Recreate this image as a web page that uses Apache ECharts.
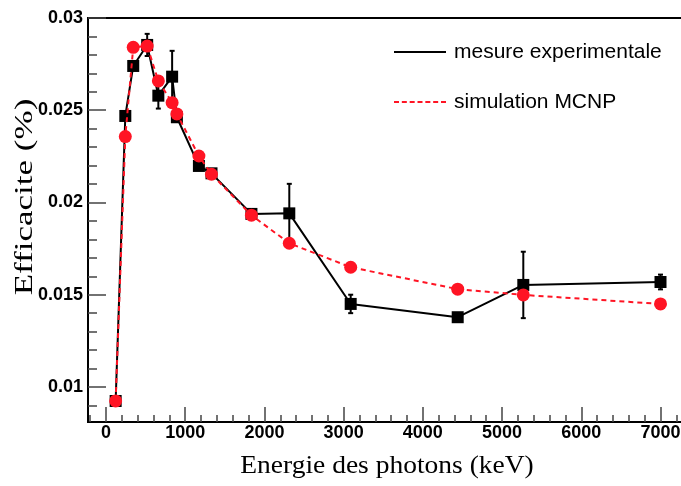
<!DOCTYPE html>
<html>
<head>
<meta charset="utf-8">
<script src="https://cdn.jsdelivr.net/npm/echarts@6/dist/echarts.min.js"></script>
<style>
  html, body { margin: 0; padding: 0; background: #ffffff; }
  #chart { width: 681px; height: 486px; }
</style>
</head>
<body>
<div id="chart"></div>
<script>
// Photon energies (keV) of the calibration lines
const energies = [122, 244, 344, 520, 661, 835, 895, 1173, 1332, 1836, 2314, 3089, 4440, 5268, 7000];

// Measured efficiency and its uncertainty (0 = bar hidden inside the marker)
const expValues = [0.00924, 0.02469, 0.0274, 0.02854, 0.02579, 0.02682, 0.02462, 0.02198, 0.02158, 0.01938, 0.01941, 0.0145, 0.01378, 0.01553, 0.01569];
const expErr    = [0, 0, 0, 0.0006, 0.0007, 0.0014, 0, 0, 0, 0, 0.0016, 0.0005, 0, 0.0018, 0.0004];

// MCNP simulated efficiency
const simValues = [0.00924, 0.02357, 0.02841, 0.02848, 0.02659, 0.02541, 0.0248, 0.02252, 0.02153, 0.01931, 0.01779, 0.01649, 0.0153, 0.01499, 0.0145];

// Axis ticks and labels
const xTicks = [0, 1000, 2000, 3000, 4000, 5000, 6000, 7000];
const yTicks = [0.01, 0.015, 0.02, 0.025, 0.03];
const xTitle = 'Energie des photons (keV)';
const yTitle = 'Efficacite (%)';

const X_MIN = -227, X_MAX = 7284;
const Y_MIN = 0.0081, Y_MAX = 0.03;

const xMinor = [];
for (let v = -200; v <= 7200; v += 200) xMinor.push(v);
const yMinor = [];
for (let k = 9; k <= 30; k++) yMinor.push(k / 1000);

const EXP_NAME = 'mesure experimentale';
const SIM_NAME = 'simulation MCNP';
const RED = '#ff1424';

const tickFont = { fontFamily: 'Liberation Sans, Arial, Helvetica, sans-serif', fontWeight: 'bold', fontSize: 18, color: '#000' };
const serifFace = '"Liberation Serif", "Times New Roman", serif';
const tickStyle = { color: '#444', width: 1.5 };

// Dashed legend sample, 52 x 2
const dashIcon = 'path://M0,0h5v2h-5z M7.83,0h5v2h-5z M15.67,0h5v2h-5z M23.5,0h5v2h-5z M31.33,0h5v2h-5z M39.17,0h5v2h-5z M47,0h5v2h-5z';

const chart = echarts.init(document.getElementById('chart'), null, { renderer: 'canvas' });

chart.setOption({
  animation: false,
  backgroundColor: '#ffffff',
  grid: {
    left: 88, right: -2, top: 18, bottom: 64,
    outerBoundsMode: 'none', containLabel: false,
    show: true, borderColor: '#000', borderWidth: 2, backgroundColor: 'transparent'
  },
  // axis titles, set in a wide serif face
  graphic: [
    {
      type: 'text', x: 387, y: 466, scaleX: 1.1, silent: true,
      style: { text: xTitle, font: '25px ' + serifFace, fill: '#000', align: 'center', verticalAlign: 'middle' }
    },
    {
      type: 'text', x: 25, y: 197, rotation: Math.PI / 2, scaleX: 1.4, silent: true,
      style: { text: yTitle, font: '25px ' + serifFace, fill: '#000', align: 'center', verticalAlign: 'middle' }
    }
  ],
  legend: {
    orient: 'vertical', left: 389, top: 35,
    itemWidth: 52, itemHeight: 2, itemGap: 26,
    textStyle: { fontFamily: 'Liberation Sans, Arial, sans-serif', fontSize: 21, color: '#000', lineHeight: 24, padding: [0, 0, 0, 3] },
    data: [ { name: EXP_NAME, icon: 'rect' }, { name: SIM_NAME, icon: dashIcon } ]
  },
  xAxis: [
    {
      type: 'value', min: X_MIN, max: X_MAX, position: 'bottom',
      axisLine: { onZero: false, lineStyle: { color: '#000', width: 2 } },
      axisTick: { inside: true, length: 15, lineStyle: tickStyle, customValues: xTicks },
      axisLabel: Object.assign({ margin: 2, customValues: xTicks, formatter: v => String(v) }, tickFont),
      splitLine: { show: false }
    },
    {
      type: 'value', min: X_MIN, max: X_MAX, position: 'bottom',
      axisLine: { show: false, onZero: false },
      axisTick: { inside: true, length: 7, lineStyle: tickStyle, customValues: xMinor },
      axisLabel: { show: false },
      splitLine: { show: false }
    }
  ],
  yAxis: [
    {
      type: 'value', min: Y_MIN, max: Y_MAX, position: 'left',
      axisLine: { onZero: false, lineStyle: { color: '#000', width: 2 } },
      axisTick: { inside: true, length: 18, lineStyle: tickStyle, customValues: yTicks },
      axisLabel: Object.assign({ margin: 5, customValues: yTicks, formatter: v => String(v) }, tickFont),
      splitLine: { show: false }
    },
    {
      type: 'value', min: Y_MIN, max: Y_MAX, position: 'left',
      axisLine: { show: false, onZero: false },
      axisTick: { inside: true, length: 9, lineStyle: tickStyle, customValues: yMinor },
      axisLabel: { show: false },
      splitLine: { show: false }
    }
  ],
  series: [
    {
      // error bars on the measured points
      type: 'custom',
      xAxisIndex: 0, yAxisIndex: 0,
      z: 1,
      silent: true,
      data: energies.map((e, i) => [e, expValues[i] - expErr[i], expValues[i] + expErr[i], expErr[i]]).filter(d => d[3] > 0),
      encode: { x: 0, y: [1, 2] },
      renderItem: (params, api) => {
        const x = api.value(0);
        const lo = api.coord([x, api.value(1)]);
        const hi = api.coord([x, api.value(2)]);
        const cap = 2.5;
        const st = { stroke: '#000', lineWidth: 2 };
        return {
          type: 'group',
          children: [
            { type: 'line', shape: { x1: lo[0], y1: lo[1], x2: hi[0], y2: hi[1] }, style: st },
            { type: 'line', shape: { x1: hi[0] - cap, y1: hi[1], x2: hi[0] + cap, y2: hi[1] }, style: st },
            { type: 'line', shape: { x1: lo[0] - cap, y1: lo[1], x2: lo[0] + cap, y2: lo[1] }, style: st }
          ]
        };
      }
    },
    {
      name: EXP_NAME,
      type: 'line',
      z: 2,
      data: energies.map((e, i) => [e, expValues[i]]),
      symbol: 'rect', symbolSize: 12,
      itemStyle: { color: '#000' },
      lineStyle: { color: '#000', width: 2 }
    },
    {
      name: SIM_NAME,
      type: 'line',
      z: 3,
      data: energies.map((e, i) => [e, simValues[i]]),
      symbol: 'circle', symbolSize: 13,
      itemStyle: { color: RED },
      lineStyle: { color: RED, width: 2, type: [5, 4] }
    }
  ]
});
</script>
</body>
</html>
